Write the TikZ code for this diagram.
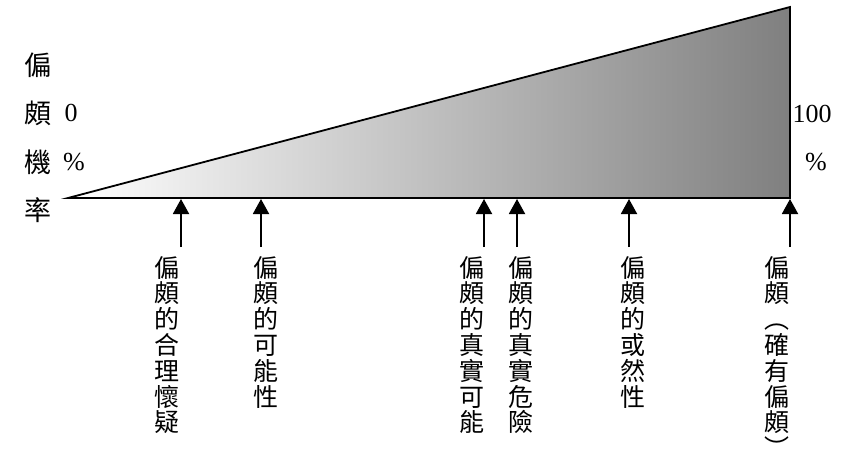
\documentclass[tikz,border=0pt]{standalone}
\usepackage{fontspec}
\setmainfont{Liberation Serif}
\newfontfamily\cjk{Noto Sans CJK TC}
\usetikzlibrary{arrows.meta}
\begin{document}
\begin{tikzpicture}[x=1pt,y=-1pt,
  upar/.style={line width=1.9pt,-{Triangle[length=15pt,width=16pt]}},
  vlabel/.style={anchor=north,align=center,inner sep=0pt,font=\cjk\fontsize{25}{25.8}\selectfont},
  sidech/.style={inner sep=0pt,font=\cjk\fontsize{27}{27}\selectfont},
  num/.style={inner sep=0pt,font=\fontsize{26}{28}\selectfont}]
\useasboundingbox (0,0) rectangle (854,460);
% triangle
\coordinate (tl) at (68,198);
\coordinate (br) at (790,198);
\coordinate (tr) at (790,7);
\shade[left color=white,right color=black!50,draw=black,line width=1.8pt,line join=miter]
  (tl) -- (br) -- (tr) -- cycle;
% left labels
\node[sidech] (c1) at (38,65) {偏};
\node[sidech] (c2) at (38,113) {頗};
\node[sidech] (c3) at (38,162) {機};
\node[sidech] (c4) at (38,210) {率};
\node[num] (z) at (71,113) {0};
\node[num] (p1) at (74,162) {\%};
\node[num] (h) at (812,114) {100};
\node[num] (p2) at (816,162) {\%};
% labels below
\node[vlabel] (l1) at (167,256) {偏\\頗\\的\\合\\理\\懷\\疑};
\node[vlabel] (l2) at (266,256) {偏\\頗\\的\\可\\能\\性};
\node[vlabel] (l3) at (472,256) {偏\\頗\\的\\真\\實\\可\\能};
\node[vlabel] (l4) at (521,256) {偏\\頗\\的\\真\\實\\危\\險};
\node[vlabel] (l5) at (633,256) {偏\\頗\\的\\或\\然\\性};
\node[vlabel] (l6) at (777,256) {偏\\頗\\︵\\確\\有\\偏\\頗\\︶};
% arrow tips on base
\coordinate (a1) at (181,199);
\coordinate (a2) at (261,199);
\coordinate (a3) at (484,199);
\coordinate (a4) at (517,199);
\coordinate (a5) at (629,199);
\coordinate (a6) at (790,199);
\draw[upar] (181,247) -- (a1);
\draw[upar] (261,247) -- (a2);
\draw[upar] (484,247) -- (a3);
\draw[upar] (517,247) -- (a4);
\draw[upar] (629,247) -- (a5);
\draw[upar] (790,247) -- (a6);
\end{tikzpicture}
\end{document}
